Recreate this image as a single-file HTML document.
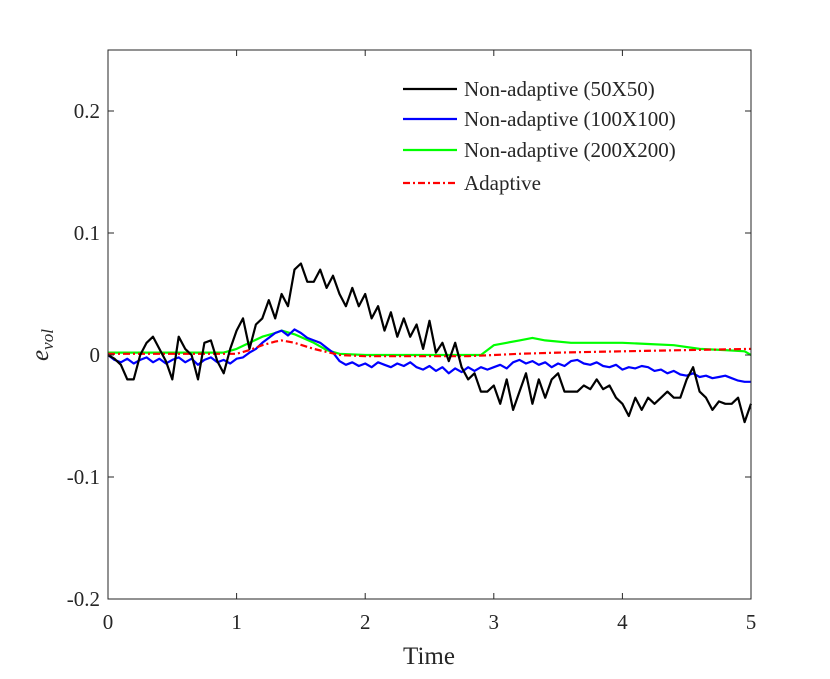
<!DOCTYPE html>
<html><head><meta charset="utf-8"><style>
body{margin:0;background:#fff}
svg text{font-family:"Liberation Serif",serif;fill:#262626}
</style></head><body>
<svg width="830" height="674">
<rect x="0" y="0" width="830" height="674" fill="#fff"/>
<g id="series"></g>
<rect x="108" y="50" width="643" height="549" fill="none" stroke="#262626" stroke-width="1"/>
<g id="ticks"></g>
<text x="429" y="664" font-size="25" text-anchor="middle">Time</text>
<text x="48" y="345" font-size="25" font-style="italic" text-anchor="middle" transform="rotate(-90 48 345)">e<tspan font-size="17" dy="5">vol</tspan></text>
<g id="legend"></g>
</svg>
<script>
const blackT0=0, blackDt=0.05;
const black=[0,-0.003,-0.008,-0.02,-0.02,0,0.01,0.015,0.005,-0.005,-0.02,0.015,0.005,0,-0.02,0.01,0.012,-0.005,-0.015,0.005,0.02,0.03,0.005,0.025,0.03,0.045,0.03,0.05,0.04,0.07,0.075,0.06,0.06,0.07,0.055,0.065,0.05,0.04,0.055,0.04,0.05,0.03,0.04,0.02,0.035,0.015,0.03,0.015,0.025,0.005,0.028,0.002,0.01,-0.005,0.01,-0.01,-0.02,-0.015,-0.03,-0.03,-0.025,-0.04,-0.02,-0.045,-0.03,-0.015,-0.04,-0.02,-0.035,-0.02,-0.015,-0.03,-0.03,-0.03,-0.025,-0.028,-0.02,-0.028,-0.025,-0.035,-0.04,-0.05,-0.035,-0.045,-0.035,-0.04,-0.035,-0.03,-0.035,-0.035,-0.02,-0.01,-0.03,-0.035,-0.045,-0.038,-0.04,-0.04,-0.035,-0.055,-0.04];
const blueDt=0.05;
const blue=[0,-0.004,-0.006,-0.003,-0.007,-0.004,-0.002,-0.006,-0.003,-0.007,-0.004,-0.002,-0.006,-0.003,-0.008,-0.004,-0.002,-0.006,-0.004,-0.007,-0.003,-0.002,0.002,0.005,0.01,0.014,0.018,0.02,0.016,0.021,0.018,0.014,0.012,0.01,0.006,0.002,-0.005,-0.008,-0.006,-0.009,-0.007,-0.01,-0.006,-0.008,-0.01,-0.007,-0.009,-0.006,-0.01,-0.012,-0.009,-0.013,-0.01,-0.015,-0.011,-0.014,-0.01,-0.013,-0.01,-0.012,-0.01,-0.008,-0.011,-0.006,-0.004,-0.007,-0.005,-0.008,-0.006,-0.01,-0.007,-0.009,-0.005,-0.004,-0.007,-0.008,-0.006,-0.009,-0.01,-0.008,-0.012,-0.01,-0.011,-0.009,-0.01,-0.013,-0.012,-0.015,-0.013,-0.016,-0.017,-0.015,-0.018,-0.017,-0.019,-0.018,-0.017,-0.019,-0.021,-0.022,-0.022];
const greenT=[0,0.9,1.0,1.1,1.2,1.3,1.35,1.45,1.6,1.7,1.8,2.0,2.5,2.9,3.0,3.1,3.2,3.3,3.4,3.6,3.8,4.0,4.2,4.4,4.6,4.8,4.95,5.0];
const greenV=[0.002,0.002,0.005,0.01,0.015,0.018,0.02,0.017,0.01,0.004,0.001,0,0,0,0.008,0.01,0.012,0.014,0.012,0.01,0.01,0.01,0.009,0.008,0.005,0.004,0.003,0];
const redT=[0,1.0,1.1,1.2,1.3,1.35,1.45,1.6,1.8,2.0,2.5,2.8,3.0,3.2,3.5,4.0,4.5,5.0];
const redV=[0.001,0.001,0.004,0.008,0.011,0.012,0.01,0.005,0,-0.001,-0.001,-0.001,0,0.001,0.002,0.003,0.004,0.005];
const xTicks=[0,1,2,3,4,5];
const yTicks=[-0.2,-0.1,0,0.1,0.2];
const yTickLabels=["-0.2","-0.1","0","0.1","0.2"];
const legendLabels=["Non-adaptive (50X50)","Non-adaptive (100X100)","Non-adaptive (200X200)","Adaptive"];
const NS="http://www.w3.org/2000/svg";
const X=t=>108+t*(643/5);
const Y=v=>355-v*1220;
function mk(tag,attrs,parent){const e=document.createElementNS(NS,tag);for(const k in attrs)e.setAttribute(k,attrs[k]);parent.appendChild(e);return e;}
const S=document.getElementById('series');
function line(ts,vs,color,name,dash){
  const d=ts.map((t,i)=>(i?'L':'M')+X(t).toFixed(1)+','+Y(vs[i]).toFixed(1)).join('');
  const p=mk('path',{d:d,fill:'none',stroke:color,'stroke-width':2.2,'stroke-linejoin':'round'},S);
  if(dash)p.setAttribute('stroke-dasharray',dash);
  
  
}
line(greenT,greenV,'#00ff00','series-200x200');
line(blue.map((v,i)=>i*blueDt),blue,'#0000ff','series-100x100');
line(redT,redV,'#ff0000','series-adaptive','7,3,2,3');
line(black.map((v,i)=>blackT0+i*blackDt),black,'#000000','series-50x50');
const T=document.getElementById('ticks');
xTicks.forEach(t=>{
  mk('line',{x1:X(t),x2:X(t),y1:599,y2:593,stroke:'#262626'},T);
  mk('line',{x1:X(t),x2:X(t),y1:50,y2:56,stroke:'#262626'},T);
  const tx=mk('text',{x:X(t),y:629,'font-size':21,'text-anchor':'middle'},T);tx.textContent=t;
  
  
});
yTicks.forEach((v,i)=>{
  mk('line',{x1:108,x2:114,y1:Y(v),y2:Y(v),stroke:'#262626'},T);
  mk('line',{x1:751,x2:745,y1:Y(v),y2:Y(v),stroke:'#262626'},T);
  const tx=mk('text',{x:100,y:Y(v)+7,'font-size':21,'text-anchor':'end'},T);tx.textContent=yTickLabels[i];
  
  
});
const L=document.getElementById('legend');
const lc=['#000','#0000ff','#00ff00','#ff0000'];
const ly=[89,119,150,183];
legendLabels.forEach((s,i)=>{
  const g=mk('g',{},L);
  
  
  const l=mk('line',{x1:403,x2:457,y1:ly[i],y2:ly[i],stroke:lc[i],'stroke-width':2.2},g);
  if(i==3)l.setAttribute('stroke-dasharray','7,3,2,3');
  const tx=mk('text',{x:464,y:ly[i]+7,'font-size':21,fill:'#000'},g);tx.textContent=s;
});
</script>
</body></html>
